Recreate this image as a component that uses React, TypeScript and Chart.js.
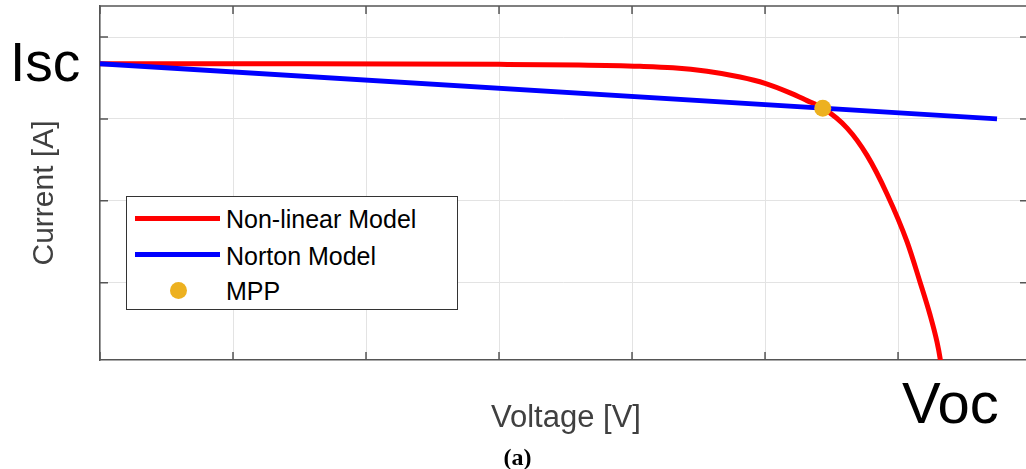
import React, { useEffect, useRef } from "react";
import { Chart, registerables } from "chart.js";

Chart.register(...registerables);

// Non-linear model (I-V curve)
const nonlinearV = [0, 1.5, 3.0, 3.6, 4.06, 4.308, 4.564, 4.812, 5.0, 5.188, 5.316, 5.436, 5.617, 5.767, 5.917, 6.068, 6.165, 6.241, 6.293, 6.316, 6.32];
const nonlinearI = [3.674, 3.674, 3.667, 3.659, 3.643, 3.625, 3.582, 3.512, 3.435, 3.319, 3.224, 3.132, 2.888, 2.555, 2.084, 1.498, 1.009, 0.605, 0.275, 0.079, 0.03];
// Norton (linear) model
const nortonV = [0, 6.744];
const nortonI = [3.674, 3.001];
// Maximum power point
const mppV = [5.434];
const mppI = [3.132];

const xTicks = [0, 1, 2, 3, 4, 5, 6];
const yTicks = [1, 2, 3, 4];

const legendLabels = ["Non-linear Model", "Norton Model", "MPP"];

const AXIS_COLOR = "#555555";

const toPts = (xs: number[], ys: number[]) => xs.map((x, i) => ({ x, y: ys[i] }));

const boxPlugin = {
  id: "boxTicks",
  afterDraw(chart: any) {
    const { ctx, chartArea } = chart;
    const xs = chart.scales.x;
    const ys = chart.scales.y;
    const L = 8;
    ctx.save();
    ctx.strokeStyle = AXIS_COLOR;
    ctx.lineWidth = 1.5;
    ctx.beginPath();
    ctx.moveTo(chartArea.left, chartArea.top);
    ctx.lineTo(chartArea.right, chartArea.top);
    xTicks.forEach((v) => {
      const px = xs.getPixelForValue(v);
      ctx.moveTo(px, chartArea.bottom);
      ctx.lineTo(px, chartArea.bottom - L);
      ctx.moveTo(px, chartArea.top);
      ctx.lineTo(px, chartArea.top + L);
    });
    yTicks.forEach((v) => {
      const py = ys.getPixelForValue(v);
      ctx.moveTo(chartArea.left, py);
      ctx.lineTo(chartArea.left + L, py);
      ctx.moveTo(chartArea.right, py);
      ctx.lineTo(chartArea.right - 6, py);
    });
    ctx.stroke();
    ctx.restore();
  },
};

export default function App() {
  const ref = useRef<HTMLCanvasElement>(null);

  useEffect(() => {
    if (!ref.current) return;
    const chart = new Chart(ref.current, {
      type: "scatter",
      data: {
        datasets: [
          {
            label: legendLabels[2],
            data: toPts(mppV, mppI),
            backgroundColor: "#EDB120",
            borderColor: "#EDB120",
            pointRadius: 8.5,
            pointBorderWidth: 0,
            showLine: false,
            order: 0,
          },
          {
            label: legendLabels[1],
            data: toPts(nortonV, nortonI),
            borderColor: "#0000FF",
            backgroundColor: "#0000FF",
            borderWidth: 5,
            pointRadius: 0,
            showLine: true,
            order: 1,
          },
          {
            label: legendLabels[0],
            data: toPts(nonlinearV, nonlinearI),
            borderColor: "#FF0000",
            backgroundColor: "#FF0000",
            borderWidth: 5,
            pointRadius: 0,
            showLine: true,
            cubicInterpolationMode: "monotone",
            order: 2,
          },
        ],
      },
      options: {
        responsive: false,
        animation: false,
        layout: { autoPadding: false, padding: { left: 100, top: 6, right: 0, bottom: 109 } },
        plugins: { legend: { display: false }, tooltip: { enabled: false } },
        scales: {
          x: {
            type: "linear",
            min: 0,
            max: 6.962,
            ticks: { display: false, stepSize: 1, includeBounds: false },
            grid: { color: "#e3e3e3", lineWidth: 1, drawTicks: false },
            border: { display: true, color: AXIS_COLOR, width: 1.5 },
            title: { display: false },
          },
          y: {
            type: "linear",
            min: 0.055,
            max: 4.38,
            ticks: { display: false, stepSize: 1, includeBounds: false },
            grid: { color: "#e3e3e3", lineWidth: 1, drawTicks: false },
            border: { display: true, color: AXIS_COLOR, width: 1.5 },
            title: { display: false },
          },
        },
      },
      plugins: [boxPlugin],
    } as any);
    return () => chart.destroy();
  }, []);

  const sans = "'Liberation Sans', Arial, sans-serif";
  const abs = (o: React.CSSProperties): React.CSSProperties => ({ position: "absolute", whiteSpace: "nowrap", ...o });

  return (
    <div style={{ position: "absolute", left: 0, top: 0, width: 1026, height: 469, overflow: "hidden", background: "#fff" }}>
      <canvas ref={ref} width={1026} height={469} style={{ position: "absolute", left: 0, top: 0, width: 1026, height: 469 }} />
      <div style={abs({ left: 10, top: 35.4, fontFamily: sans, fontSize: 55, lineHeight: "55px", color: "#000" })}>Isc</div>
      <div style={abs({ left: 902, top: 374, fontFamily: sans, fontSize: 58, lineHeight: "58px", color: "#000" })}>Voc</div>
      <div style={abs({ left: 566, top: 400.8, transform: "translateX(-50%)", fontFamily: sans, fontSize: 31, lineHeight: "31px", color: "#404040" })}>Voltage [V]</div>
      <div style={abs({ left: 42.6, top: 192.5, transform: "translate(-50%,-50%) rotate(-90deg)", fontFamily: sans, fontSize: 30, lineHeight: "30px", color: "#404040" })}>Current [A]</div>
      <div style={abs({ left: 517.5, top: 445, transform: "translateX(-50%)", fontFamily: "'Liberation Serif', 'Times New Roman', serif", fontWeight: "bold", fontSize: 24, lineHeight: "24px", color: "#000" })}>(a)</div>
      <div style={abs({ left: 126, top: 196, width: 332, height: 114, border: "1px solid #333", background: "#fff", boxSizing: "border-box" })} />
      <div style={abs({ left: 135, top: 215.8, width: 85, height: 5, background: "#FF0000" })} />
      <div style={abs({ left: 135, top: 251.5, width: 85, height: 5, background: "#0000FF" })} />
      <div style={abs({ left: 169.5, top: 281.5, width: 17, height: 17, borderRadius: "50%", background: "#EDB120" })} />
      <div style={abs({ left: 226, top: 228.3 - 21.2, fontFamily: sans, fontSize: 25, lineHeight: "25px", color: "#000" })}>{legendLabels[0]}</div>
      <div style={abs({ left: 226, top: 265 - 21.2, fontFamily: sans, fontSize: 25, lineHeight: "25px", color: "#000" })}>{legendLabels[1]}</div>
      <div style={abs({ left: 226, top: 300 - 21.2, fontFamily: sans, fontSize: 25, lineHeight: "25px", color: "#000" })}>{legendLabels[2]}</div>
    </div>
  );
}
